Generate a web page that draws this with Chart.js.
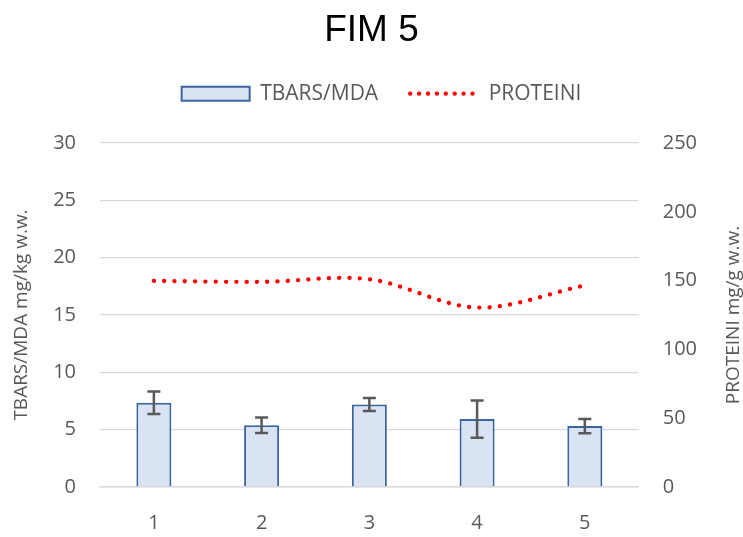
<!DOCTYPE html>
<html><head><meta charset="utf-8">
<script src="https://cdn.jsdelivr.net/npm/chart.js@4/dist/chart.umd.min.js"></script>
<style>html,body{margin:0;padding:0;background:#fff}</style>
</head><body>
<canvas id="c" width="743" height="537" style="display:block;width:743px;height:537px"></canvas>
<script>
const categories = ['1', '2', '3', '4', '5'];
const tbarsValues = [7.35, 5.39, 7.2, 5.92, 5.31];
const tbarsErrors = [0.98, 0.67, 0.57, 1.63, 0.63];
const proteiniValues = [149.8, 149.1, 151.0, 130.4, 146.5];
const leftAxisMax = 30, leftAxisStep = 5;
const rightAxisMax = 250, rightAxisStep = 50;
const titleText = 'FIM 5';
const leftTitle = 'TBARS/MDA mg/kg w.w.';
const rightTitle = 'PROTEINI mg/g w.w.';

const GREY = '#595959';
const FONT = "'Open Sans', sans-serif";

const errorBars = {
  id: 'errorBars',
  afterDatasetsDraw(chart) {
    const meta = chart.getDatasetMeta(0);
    const y = chart.scales.y;
    const ctx = chart.ctx;
    ctx.save();
    ctx.strokeStyle = GREY;
    ctx.lineWidth = 2.5;
    ctx.lineCap = 'butt';
    meta.data.forEach((bar, i) => {
      const v = tbarsValues[i], e = tbarsErrors[i];
      const yt = y.getPixelForValue(v + e), yb = y.getPixelForValue(v - e);
      const x = bar.x, hw = 6.5;
      ctx.beginPath();
      ctx.moveTo(x, yt); ctx.lineTo(x, yb);
      ctx.moveTo(x - hw, yt); ctx.lineTo(x + hw, yt);
      ctx.moveTo(x - hw, yb); ctx.lineTo(x + hw, yb);
      ctx.stroke();
    });
    ctx.restore();
  }
};

const rightAxisTitle = {
  id: 'rightAxisTitle',
  afterDraw(chart) {
    const ctx = chart.ctx, a = chart.chartArea;
    ctx.save();
    ctx.translate(734, (a.top + a.bottom) / 2);
    ctx.rotate(-Math.PI / 2);
    ctx.fillStyle = GREY;
    ctx.font = "19px " + FONT;
    ctx.textAlign = 'center';
    ctx.textBaseline = 'middle';
    ctx.fillText(rightTitle, 0, 0);
    ctx.restore();
  }
};

const legendShift = {
  id: 'legendShift',
  afterLayout(chart) {
    if (chart.legend) { chart.legend.left += 10; chart.legend.right += 10; }
  }
};

new Chart(document.getElementById('c'), {
  data: {
    labels: categories,
    datasets: [
      {
        type: 'bar', label: 'TBARS/MDA', data: tbarsValues, yAxisID: 'y',
        backgroundColor: '#dae3f3', borderColor: '#3b64a0', borderWidth: 2,
        barPercentage: 0.325, categoryPercentage: 1.0
      },
      {
        type: 'line', label: 'PROTEINI', data: proteiniValues, yAxisID: 'y1',
        borderColor: '#ff0000', backgroundColor: '#ff0000', borderWidth: 4.3,
        borderDash: [0.1, 10.2], borderCapStyle: 'round', tension: 0.33,
        pointRadius: 0, fill: false
      }
    ]
  },
  options: {
    responsive: false, animation: false,
    layout: { padding: { left: 0, right: 0, top: 0, bottom: 0 } },
    plugins: {
      title: {
        display: true, text: titleText, color: '#000',
        font: { family: "'Liberation Sans', Arial, sans-serif", size: 37, weight: 'normal', lineHeight: 1.1 },
        padding: { top: 10.5, bottom: 0 }
      },
      subtitle: {
        display: true, text: '', weight: 500,
        font: { size: 1, lineHeight: 1 },
        padding: { top: 0, bottom: 27.8 }
      },
      legend: {
        display: true, position: 'top',
        labels: {
          color: GREY, font: { family: FONT, size: 21 },
          usePointStyle: true, pointStyleWidth: 68, boxHeight: 14, padding: 32,
          generateLabels(chart) {
            const items = Chart.defaults.plugins.legend.labels.generateLabels(chart);
            items.forEach(it => {
              if (it.datasetIndex === 0) { it.pointStyle = 'rect'; it.lineWidth = 2; it.lineDash = []; }
              else { it.pointStyle = 'line'; it.lineWidth = 4.3; it.lineDash = [0.1, 8.8]; it.lineCap = 'round'; }
            });
            return items.sort((a, b) => a.datasetIndex - b.datasetIndex);
          }
        }
      },
      tooltip: { enabled: false }
    },
    scales: {
      x: {
        offset: true,
        grid: { display: false, drawTicks: false },
        border: { display: true, color: '#d9d9d9', width: 1.5 },
        ticks: { color: GREY, font: { family: FONT, size: 20 }, padding: 24 },
        afterFit(s) { s.height = 50; }
      },
      y: {
        position: 'left', min: 0, max: leftAxisMax,
        ticks: { stepSize: leftAxisStep, color: GREY, font: { family: FONT, size: 20 }, padding: 24 },
        grid: { color: '#d9d9d9', lineWidth: 1.3, drawTicks: false },
        border: { display: false },
        title: { display: true, text: leftTitle, color: GREY, font: { family: FONT, size: 19 }, padding: { top: 10, bottom: 0 } },
        afterFit(s) { s.width = 100; }
      },
      y1: {
        position: 'right', min: 0, max: rightAxisMax,
        ticks: { stepSize: rightAxisStep, color: GREY, font: { family: FONT, size: 20 }, padding: 24 },
        grid: { display: false, drawTicks: false },
        border: { display: false },
        afterFit(s) { s.width = 104.3; }
      }
    }
  },
  plugins: [errorBars, rightAxisTitle, legendShift]
});
</script>
</body></html>
